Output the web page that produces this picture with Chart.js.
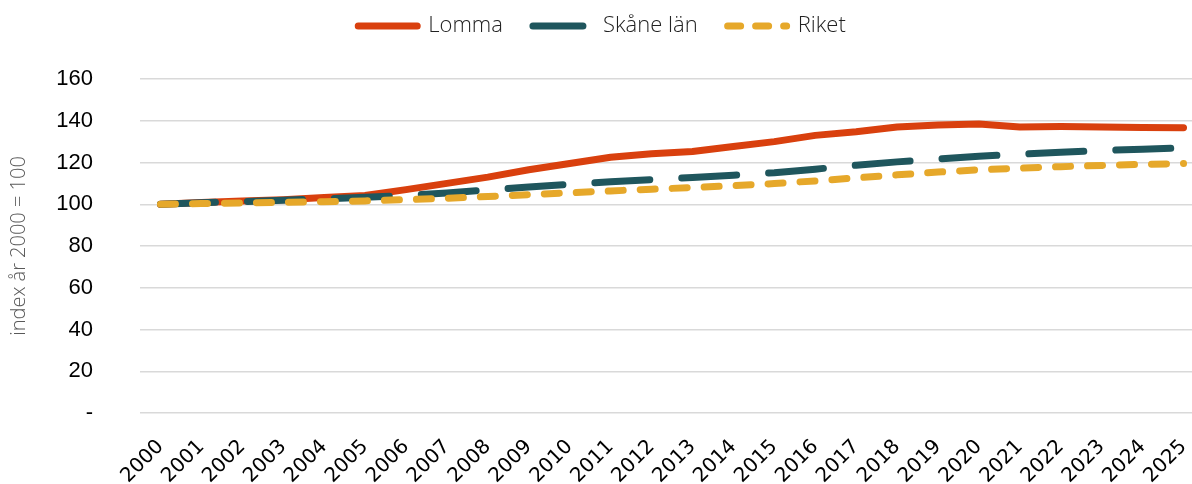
<!DOCTYPE html>
<html>
<head>
<meta charset="utf-8">
<script src="https://cdn.jsdelivr.net/npm/chart.js@4"></script>
<style>
  html, body { margin: 0; padding: 0; background: #fff; overflow: hidden; }
  /* a little wider than the window so the last year sits near the right edge */
  #wrap { width: 1204px; height: 484px; }
</style>
</head>
<body>
<div id="wrap"><canvas id="chart"></canvas></div>
<script>
const years = ["2000","2001","2002","2003","2004","2005","2006","2007","2008","2009","2010","2011","2012",
  "2013","2014","2015","2016","2017","2018","2019","2020","2021","2022","2023","2024","2025"];

const lomma = [100, 100.8, 101.5, 102.2, 103.2, 104.2, 107, 110, 113, 116.5, 119.5, 122.5, 124.2,
  125.3, 127.7, 130, 133, 134.7, 137, 138, 138.4, 137, 137.2, 137, 136.8, 136.7];
const skane = [100, 100.7, 101.3, 101.9, 102.6, 103.3, 104.2, 105.4, 106.9, 108.3, 109.6, 110.8, 111.8,
  112.8, 113.9, 115.1, 116.8, 118.7, 120.3, 121.7, 123.0, 124.0, 124.9, 125.7, 126.4, 127.0];
const riket = [100, 100.3, 100.6, 100.9, 101.2, 101.6, 102.2, 102.9, 103.7, 104.6, 105.5, 106.4, 107.2,
  108.0, 108.9, 109.9, 111.2, 112.6, 114.1, 115.4, 116.5, 117.3, 118.0, 118.6, 119.1, 119.5];

const seriesNames = ["Lomma", "Skåne län", "Riket"];
const yTitle = "index år 2000 = 100";

// dash pattern used for the little legend lines
const legendDash = [[], [50, 40], [13, 15]];

const lineBase = {
  borderWidth: 7,
  borderCapStyle: 'round',
  borderJoinStyle: 'round',
  pointRadius: 0,
  pointHoverRadius: 0,
  pointStyle: 'line',
  tension: 0,
  fill: false
};

// extra room under the legend
const legendMargin = {
  id: 'legendMargin',
  beforeInit(chart) {
    const origFit = chart.legend.fit;
    chart.legend.fit = function () {
      origFit.bind(chart.legend)();
      this.height += 32;
    };
  }
};

const config = {
  type: 'line',
  data: {
    labels: years,
    datasets: [
      Object.assign({}, lineBase, {
        label: seriesNames[0],
        data: lomma,
        borderColor: '#D9400E',
        backgroundColor: '#D9400E',
        order: 3
      }),
      Object.assign({}, lineBase, {
        label: seriesNames[1],
        data: skane,
        borderColor: '#1F565D',
        backgroundColor: '#1F565D',
        borderDash: [55, 32],
        order: 2
      }),
      Object.assign({}, lineBase, {
        label: seriesNames[2],
        data: riket,
        borderColor: '#E6A82A',
        backgroundColor: '#E6A82A',
        borderDash: [15, 17],
        order: 1
      })
    ]
  },
  options: {
    responsive: true,
    maintainAspectRatio: false,
    animation: false,
    layout: {
      padding: { top: -15, right: 0, left: 0, bottom: 0 }
    },
    plugins: {
      legend: {
        position: 'top',
        labels: {
          usePointStyle: true,
          pointStyleWidth: 59,
          boxHeight: 8,
          padding: 30,
          color: '#222',
          font: { family: 'Open Sans', size: 22, weight: 300 },
          sort: (a, b) => a.datasetIndex - b.datasetIndex,
          generateLabels: chart => {
            const items = Chart.defaults.plugins.legend.labels.generateLabels(chart);
            items.forEach(item => {
              const ds = chart.data.datasets[item.datasetIndex];
              item.lineDash = legendDash[item.datasetIndex];
              item.lineCap = 'round';
              item.lineWidth = 7;
              item.strokeStyle = ds.borderColor;
              item.fillStyle = ds.borderColor;
            });
            return items;
          }
        }
      },
      tooltip: { enabled: false }
    },
    scales: {
      x: {
        offset: true,
        afterFit: scale => {
          scale.height = 71;
          scale.paddingRight = 0;
        },
        grid: { display: false, drawTicks: false },
        border: { display: false },
        ticks: {
          maxRotation: 45,
          minRotation: 45,
          autoSkip: false,
          padding: 22,
          color: '#000',
          font: { family: 'DejaVu Sans', size: 20 }
        }
      },
      y: {
        min: 0,
        max: 160,
        afterFit: scale => { scale.width = 140; },
        grid: { color: '#d9d9d9', lineWidth: 1.5, drawTicks: false },
        border: { display: false },
        ticks: {
          stepSize: 20,
          padding: 47,
          color: '#000',
          font: { family: 'Liberation Sans', size: 22 },
          callback: v => v === 0 ? '-' : v
        },
        title: {
          display: true,
          text: yTitle,
          color: '#595959',
          padding: { top: 7, bottom: 4 },
          font: { family: 'Open Sans', size: 20, weight: 300 }
        }
      }
    }
  },
  plugins: [legendMargin]
};

new Chart(document.getElementById('chart'), config);
</script>
</body>
</html>
